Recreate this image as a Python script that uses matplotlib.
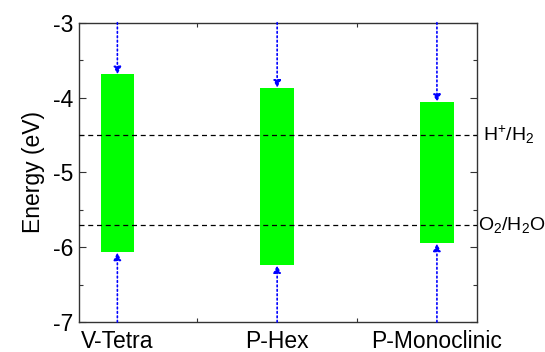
import matplotlib
matplotlib.use("Agg")
import matplotlib.pyplot as plt
from matplotlib.ticker import MultipleLocator, FixedLocator

plt.rcParams["font.family"] = "Liberation Sans"
plt.rcParams["mathtext.fontset"] = "custom"
plt.rcParams["mathtext.rm"] = "Liberation Sans"
plt.rcParams["mathtext.it"] = "Liberation Sans:italic"
plt.rcParams["axes.unicode_minus"] = False

phases = ["V-Tetra", "P-Hex", "P-Monoclinic"]
cbm = [-3.69, -3.87, -4.06]
vbm = [-6.07, -6.24, -5.95]
redox_levels = [-4.5, -5.7]
redox_labels = [r"H$^{+}$/H$_{2}$", r"O$_{2}$/H$_{2}$O"]

ymin, ymax = -7, -3
pos = [1, 2, 3]

fig = plt.figure(figsize=(5.45, 3.52), dpi=100)
ax = fig.add_axes([0.145, 0.085, 0.73, 0.8505])

# band gap boxes
heights = [c - v for c, v in zip(cbm, vbm)]
ax.bar(pos, heights, bottom=vbm, width=0.21, color="#00ff00", zorder=2)

# redox potentials
for level in redox_levels:
    ax.axhline(level, color="black", lw=0.9, ls=(0, (4, 3)), zorder=3)

# arrows from the frame edges to the band edges
arrow = dict(arrowstyle="-|>", color="blue", lw=1.2, ls=":",
             mutation_scale=11, shrinkA=0, shrinkB=0)
for x, c, v in zip(pos, cbm, vbm):
    ax.annotate("", xy=(x, c), xytext=(x, ymax), arrowprops=arrow, zorder=4)
    ax.annotate("", xy=(x, v), xytext=(x, ymin), arrowprops=arrow, zorder=4)

ax.set_xlim(0.76, 3.25)
ax.set_ylim(ymin, ymax)
ax.set_xticks(pos)
ax.set_xticklabels(phases)
ax.xaxis.set_minor_locator(FixedLocator([1.5, 2.5]))
ax.yaxis.set_major_locator(MultipleLocator(1))
ax.yaxis.set_minor_locator(MultipleLocator(0.5))
ax.tick_params(which="both", direction="in", top=True, right=True,
               labelsize=16.5, width=0.8, color="#333333")
ax.tick_params(axis="x", which="major", length=0, pad=6)
ax.tick_params(axis="y", which="major", length=5, pad=4)
ax.tick_params(which="minor", length=3)
ax.set_ylabel("Energy (eV)", fontsize=16.5, labelpad=6)
for s in ax.spines.values():
    s.set_linewidth(1.0)
    s.set_color("#333333")

label_x = [1.015, 1.003]
for lx, level, lab in zip(label_x, redox_levels, redox_labels):
    ax.text(lx, level, lab, transform=ax.get_yaxis_transform(),
            fontsize=14, va="center", ha="left")

fig.savefig("out.png", dpi=100)
